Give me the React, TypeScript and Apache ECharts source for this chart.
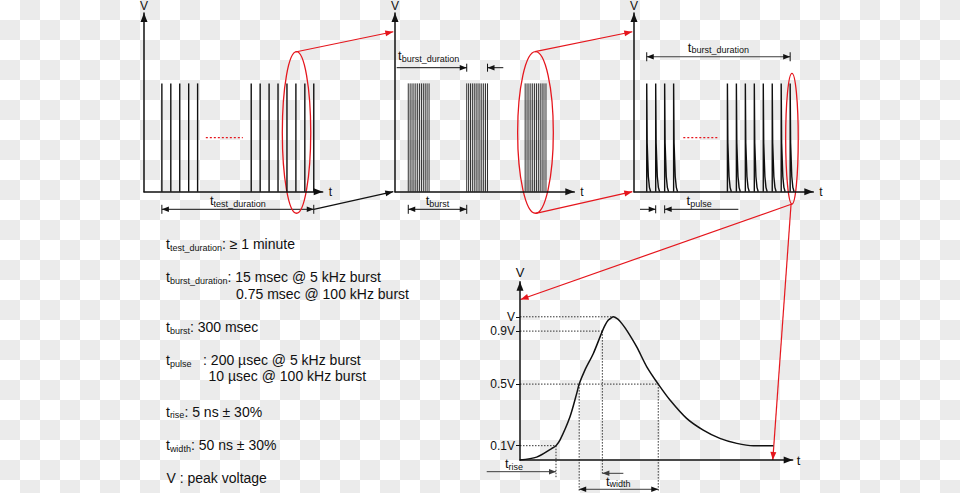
import React, { useEffect, useRef } from 'react';
import * as echarts from 'echarts';

const FONT = '"Liberation Sans", Arial, Helvetica, sans-serif';
const RED = '#e5161d';
const INK = '#111111';
const GREY = '#3c3c3c';

// ---------- data (time units 0–100 along each axis, amplitude 1 = pulse height / V) ----------
// Panel 1 : test sequence of bursts
const testPulseTimes = [10, 15, 20, 25, 30, 60, 65, 70, 75, 80, 85, 90, 95];
const testGap = [34.6, 55.3];
// Panel 2 : bursts
const burstStarts = [7.4, 40.0, 72.6];
const burstLineOffsets = [0, 1.05, 2.1, 3.15, 4.2, 5.25, 6.3, 7.35, 8.4, 9.45, 10.5, 11.6];
// Panel 3 : pulses inside one burst
const pulseTimes = [7.1, 12.1, 17.1, 22.1, 52.1, 57.1, 62.1, 67.1, 72.1, 77.1, 82.1, 87.1];
const pulseGap = [27.5, 47.6];
const decayDt = [0, 0.25, 0.9, 1.5, 2.2];
const decayV = [1, 0.45, 0.14, 0.04, 0];
const gapLevel = 0.5;
// Panel 4 : single pulse shape
const shapeT = [0, 6.1, 11.6, 13.2, 14.7, 18.3, 20.8, 21.7, 23.8, 26.9, 30.2, 31.3, 32.4, 33.6, 34.2, 34.8, 36.0, 37.3, 39.1, 42.8, 46.5, 50.7, 55.0, 61.1, 67.2, 73.3, 79.5, 85.6, 92.9];
const shapeV = [0, 0.02, 0.08, 0.1, 0.14, 0.30, 0.465, 0.53, 0.628, 0.744, 0.9, 0.945, 0.977, 0.995, 1.0, 0.997, 0.982, 0.954, 0.907, 0.79, 0.651, 0.53, 0.419, 0.291, 0.209, 0.151, 0.116, 0.10, 0.10];
const levels = [0.1, 0.53, 0.9, 1.0];
const levelLabels = ['0.1V', '0.5V', '0.9V', 'V'];
const levelGuideEnd = [13.2, 50.7, 30.2, 34.2];
const t10 = 13.2;
const t50rise = 21.7;
const t90 = 30.2;
const t50fall = 50.7;

// notes on the left
const noteSubs = ['test_duration', 'burst_duration', 'burst', 'pulse', 'rise', 'width', ''];
const noteTexts = [': ≥ 1 minute', ': 15 msec @ 5 kHz burst', ': 300 msec', '   : 200 µsec @ 5 kHz burst', ': 5 ns ± 30%', ': 50 ns ± 30%', 'V : peak voltage'];
const noteMore = ['', '0.75 msec @ 100 kHz burst', '', '10 µsec @ 100 kHz burst', '', '', ''];

// ---------- layout ----------
const GRID_BOXES = [
  { left: 144, top: 13, width: 178.7, height: 178.7 },
  { left: 395, top: 13, width: 179.3, height: 178.7 },
  { left: 634, top: 13, width: 179.3, height: 178.7 },
  { left: 520, top: 281.7, width: 272.7, height: 178.3 },
];
const NOTE_X = 166;
const NOTE_BASE = [249, 282.3, 332.3, 365, 416.7, 450, 482.7];
const NOTE_MORE_X = [0, 236, 0, 208.5, 0, 0, 0];
const NOTE_MORE_DY = 16.3;

const axisLine = {
  show: true,
  onZero: true,
  symbol: ['none', 'triangle'],
  symbolSize: [7, 9],
  symbolOffset: [0, -4.5],
  lineStyle: { color: INK, width: 1.5 },
};
const nameStyle = (size: number, lh?: number) => {
  const s: any = { fontSize: size, color: INK, fontFamily: FONT };
  if (lh) s.lineHeight = lh;
  return s;
};

function xAxis(i: number, gap: number, size: number) {
  return {
    type: 'value', gridIndex: i, min: 0, max: 100,
    name: 't', nameLocation: 'end', nameGap: gap, nameTextStyle: nameStyle(size),
    axisLine, axisTick: { show: false }, axisLabel: { show: false }, splitLine: { show: false },
  };
}
function yAxis(i: number, max: number, gap: number, size: number, lh?: number, extra: any = {}) {
  return {
    type: 'value', gridIndex: i, min: 0, max,
    name: 'V', nameLocation: 'end', nameGap: gap, nameTextStyle: nameStyle(size, lh),
    axisLine, axisTick: { show: false }, axisLabel: { show: false }, splitLine: { show: false },
    ...extra,
  };
}

function vLines(gi: number, data: number[][], width: number, color: string) {
  return {
    type: 'custom', xAxisIndex: gi, yAxisIndex: gi, silent: true, data,
    renderItem: (_p: any, api: any) => {
      const a = api.coord([api.value(0), 0]);
      const b = api.coord([api.value(0), api.value(1)]);
      return { type: 'line', shape: { x1: a[0], y1: a[1], x2: b[0], y2: b[1] }, style: { stroke: color, lineWidth: width } };
    },
  };
}

function gapLine(gi: number, span: number[]) {
  return {
    type: 'line', xAxisIndex: gi, yAxisIndex: gi, silent: true, symbol: 'none',
    color: RED,
    itemStyle: { color: RED },
    data: [[span[0], gapLevel], [span[1], gapLevel]],
    lineStyle: { color: RED, width: 1.2, type: [2, 2], opacity: 1 },
  };
}

function rich(main: number, lh: number) {
  return {
    m: { fontSize: main, lineHeight: lh, fontFamily: FONT, fill: INK },
    s: { fontSize: 9, verticalAlign: 'bottom', fontFamily: FONT, fill: INK },
  };
}

function buildGraphics(P: (g: number, x: number, y: number) => number[]) {
  const els: any[] = [];
  const seg = (a: number[], b: number[], stroke: string, lw = 1, dash?: number[]) => {
    const style: any = { stroke, lineWidth: lw, fill: 'none' };
    if (dash) style.lineDash = dash;
    els.push({ type: 'line', silent: true, shape: { x1: a[0], y1: a[1], x2: b[0], y2: b[1] }, style });
  };
  const head = (tip: number[], from: number[], fill: string, len = 7, wid = 5.5) => {
    const dx = tip[0] - from[0];
    const dy = tip[1] - from[1];
    const L = Math.hypot(dx, dy) || 1;
    const ux = dx / L, uy = dy / L;
    const bx = tip[0] - ux * len, by = tip[1] - uy * len;
    const px = -uy * wid / 2, py = ux * wid / 2;
    els.push({ type: 'polygon', silent: true, shape: { points: [[tip[0], tip[1]], [bx + px, by + py], [bx - px, by - py]] }, style: { fill } });
  };
  const arrow = (from: number[], tip: number[], color: string, lw = 1, len = 7, wid = 5.5) => {
    seg(from, tip, color, lw);
    head(tip, from, color, len, wid);
  };
  const bar = (p: number[], color: string, h = 9) => seg([p[0], p[1] - h / 2], [p[0], p[1] + h / 2], color, 1);
  const dimBoth = (a: number[], b: number[], color: string, bars: boolean) => {
    seg(a, b, color, 1);
    head(a, b, INK);
    head(b, a, INK);
    if (bars) { bar(a, INK); bar(b, INK); }
  };
  const ellipse = (g: number, xs: number[], vs: number[]) => {
    const a = P(g, xs[0], vs[1]);
    const b = P(g, xs[1], vs[0]);
    els.push({
      type: 'ellipse', silent: true,
      shape: { cx: (a[0] + b[0]) / 2, cy: (a[1] + b[1]) / 2, rx: Math.abs(b[0] - a[0]) / 2, ry: Math.abs(b[1] - a[1]) / 2 },
      style: { fill: 'none', stroke: RED, lineWidth: 1.3 },
    });
  };
  const label = (p: number[], sub: string, align: string) => {
    els.push({
      type: 'text', silent: true, x: p[0], y: p[1] - 12,
      style: { text: `{m|t}{s|${sub}}`, rich: rich(13, 15), align, verticalAlign: 'top' },
    });
  };

  const low = -0.1625;
  // Panel 1
  const d1a = P(0, testPulseTimes[0], low);
  const d1b = P(0, testPulseTimes[testPulseTimes.length - 1], low);
  dimBoth(d1a, d1b, INK, true);
  label(P(0, (testPulseTimes[0] + testPulseTimes[testPulseTimes.length - 1]) / 2, -0.123), 'test_duration', 'center');
  ellipse(0, [77.4, 93.3], [-0.199, 1.293]);
  arrow(P(0, 84.7, 1.29), P(1, -0.95, 1.477), RED, 1.2, 8, 6);
  arrow(d1b, P(1, -0.95, 0), INK, 1.2, 8, 6);

  // Panel 2
  const b2end = burstStarts[1] + burstLineOffsets[burstLineOffsets.length - 1];
  dimBoth(P(1, burstStarts[0], low), P(1, burstStarts[1], low), INK, true);
  label(P(1, (burstStarts[0] + burstStarts[1]) / 2, -0.123), 'burst', 'center');
  const up2 = 1.145;
  arrow(P(1, 0.95, up2), P(1, burstStarts[1], up2), INK, 1, 7, 5.5);
  bar(P(1, burstStarts[1], up2), INK, 8);
  arrow(P(1, 60.4, up2), P(1, b2end, up2), INK, 1, 7, 5.5);
  bar(P(1, b2end, up2), INK, 8);
  label(P(1, 1.7, 1.216), 'burst_duration', 'left');
  ellipse(1, [68.4, 88.3], [-0.199, 1.293]);
  arrow(P(1, 78.1, 1.293), P(2, -0.95, 1.477), RED, 1.2, 8, 6);
  arrow(P(1, 78.6, -0.2), P(2, -0.95, 0), RED, 1.2, 8, 6);

  // Panel 3
  const up3 = 1.246;
  const p3a = P(2, pulseTimes[0], up3);
  const p3b = P(2, pulseTimes[pulseTimes.length - 1], up3);
  dimBoth(p3a, p3b, GREY, true);
  label(P(2, (pulseTimes[0] + pulseTimes[pulseTimes.length - 1]) / 2, 1.293), 'burst_duration', 'center');
  arrow(P(2, 3.35, low), P(2, pulseTimes[1], low), INK, 1, 7, 5.5);
  bar(P(2, pulseTimes[1], low), INK, 8);
  arrow(P(2, 58.2, low), P(2, pulseTimes[2], low), INK, 1, 7, 5.5);
  bar(P(2, pulseTimes[2], low), INK, 8);
  label(P(2, 29.3, -0.123), 'pulse', 'left');
  ellipse(2, [84.6, 91.6], [-0.114, 1.093]);
  arrow(P(2, 88.1, -0.114), P(3, 0.2, 1.121), RED, 1.2, 8, 6);
  arrow(P(2, 87.6, -0.114), P(3, 92.7, 0), RED, 1.2, 8, 6);

  // Panel 4 guides
  const dot = [1.5, 1.5];
  levels.forEach((lv, i) => seg(P(3, 0, lv), P(3, levelGuideEnd[i], lv), '#333', 1, dot));
  seg(P(3, t10, levels[0]), P(3, t10, -0.128), '#333', 1, dot);
  seg(P(3, t50rise, levels[1]), P(3, t50rise, -0.216), '#333', 1, dot);
  seg(P(3, t50fall, levels[1]), P(3, t50fall, -0.216), '#333', 1, dot);
  seg(P(3, t90, levels[2]), P(3, t90, -0.093), '#333', 1, dot);
  arrow(P(3, -12.2, -0.0816), P(3, t10, -0.0816), GREY, 1, 7, 5.5);
  label(P(3, -5.5, -0.058), 'rise', 'left');
  arrow(P(3, 37.9, -0.093), P(3, t90, -0.093), GREY, 1, 7, 5.5);
  dimBoth(P(3, t50rise, -0.2045), P(3, t50fall, -0.2045), GREY, false);
  label(P(3, 31.5, -0.181), 'width', 'left');

  // Notes on the left
  noteTexts.forEach((txt, i) => {
    const sub = noteSubs[i];
    const text = sub ? `{m|t}{s|${sub}}{m|${txt}}` : `{m|${txt}}`;
    const x = sub ? NOTE_X : NOTE_X + 0.5;
    els.push({ type: 'text', silent: true, x, y: NOTE_BASE[i] - 12.85, style: { text, rich: rich(14, 16), align: 'left', verticalAlign: 'top' } });
    if (noteMore[i]) {
      els.push({ type: 'text', silent: true, x: NOTE_MORE_X[i], y: NOTE_BASE[i] + NOTE_MORE_DY - 12.85, style: { text: `{m|${noteMore[i]}}`, rich: rich(14, 16), align: 'left', verticalAlign: 'top' } });
    }
  });
  return els;
}

export default function App() {
  const ref = useRef<HTMLDivElement>(null);
  useEffect(() => {
    const chart = echarts.init(ref.current!, null, { renderer: 'svg' });
    const option: any = {
      animation: false,
      backgroundColor: 'transparent',
      textStyle: { fontFamily: FONT },
      grid: GRID_BOXES.map((b) => ({ ...b, containLabel: false, outerBoundsMode: 'none' })),
      xAxis: [xAxis(0, 6, 12), xAxis(1, 6, 12), xAxis(2, 6, 12), xAxis(3, 4, 13)],
      yAxis: [
        yAxis(0, 1.65, 2.5, 12, 10),
        yAxis(1, 1.65, 2.5, 12, 10),
        yAxis(2, 1.65, 2.5, 12, 10),
        yAxis(3, 1.245, 3, 13, undefined, {
          axisTick: { show: true, customValues: levels, length: 4, lineStyle: { color: INK, width: 1 } },
          axisLabel: {
            show: true, customValues: levels, margin: 5, fontSize: 12, color: INK, fontFamily: FONT,
            formatter: (v: number) => {
              const k = levels.findIndex((l) => Math.abs(l - v) < 1e-6);
              return k >= 0 ? levelLabels[k] : '';
            },
          },
        }),
      ],
      series: [
        vLines(0, testPulseTimes.map((t) => [t, 1]), 1.4, INK),
        gapLine(0, testGap),
        vLines(1, burstStarts.flatMap((s) => burstLineOffsets.map((o) => [s + o, 1])), 0.9, '#1a1a1a'),
        {
          type: 'custom', xAxisIndex: 2, yAxisIndex: 2, silent: true,
          data: pulseTimes.map((t) => [t, 1]),
          renderItem: (_p: any, api: any) => {
            const t = api.value(0);
            const pts = [api.coord([t, 0])].concat(decayDt.map((d, k) => api.coord([t + d, decayV[k]])));
            return { type: 'polyline', shape: { points: pts }, style: { stroke: INK, lineWidth: 1.4, fill: 'none' } };
          },
        },
        gapLine(2, pulseGap),
        {
          type: 'line', xAxisIndex: 3, yAxisIndex: 3, silent: true, symbol: 'none', smooth: 0.3,
          data: shapeT.map((t, i) => [t, shapeV[i]]),
          lineStyle: { color: INK, width: 1.5 },
        },
      ],
    };
    chart.setOption(option);
    const P = (g: number, x: number, y: number) => chart.convertToPixel({ gridIndex: g } as any, [x, y]) as number[];
    chart.setOption({ graphic: { elements: buildGraphics(P) } });
    return () => chart.dispose();
  }, []);
  return (
    <div
      ref={ref}
      style={{
        position: 'absolute', left: 0, top: 0, width: 960, height: 493,
        backgroundColor: '#ffffff',
        backgroundImage: 'conic-gradient(#ebebeb 25%, #ffffff 25% 50%, #ebebeb 50% 75%, #ffffff 75%)',
        backgroundSize: '40px 40px',
      }}
    />
  );
}
